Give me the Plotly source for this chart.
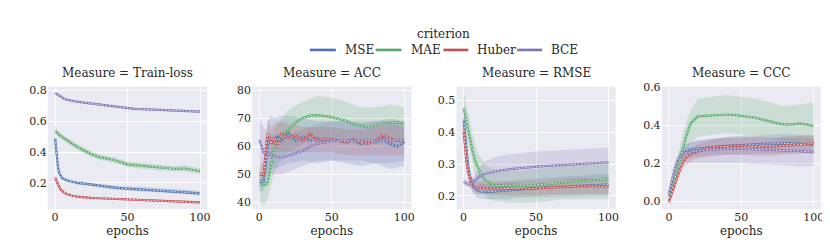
import plotly.graph_objects as go

# ---------------- data ----------------
criteria = ["MSE", "MAE", "Huber", "BCE"]
measures = ["Train-loss", "ACC", "RMSE", "CCC"]
colors = ["#4C72B0", "#55A868", "#C44E52", "#8172B3"]
fills = ["rgba(76,114,176,0.2)", "rgba(85,168,104,0.2)", "rgba(196,78,82,0.2)", "rgba(129,114,179,0.2)"]

epochs = [0, 1, 2, 3, 4, 5, 6, 8, 10, 12, 15, 20, 25, 30, 35, 40, 45, 50, 55, 60, 65, 70, 75, 80, 85, 90, 95, 100]
band_epochs = [0, 1, 2, 3, 4, 5, 6, 8, 10, 15, 20, 30, 40, 50, 60, 70, 80, 90, 100]

# Train-loss
train_mse = [0.49, 0.40, 0.30, 0.26, 0.24, 0.23, 0.225, 0.215, 0.21, 0.207, 0.2, 0.195, 0.188, 0.18, 0.175, 0.17, 0.166, 0.163, 0.16, 0.16, 0.155, 0.152, 0.15, 0.147, 0.145, 0.142, 0.138, 0.132]
train_mse_lo = [0.47, 0.38, 0.285, 0.248, 0.23, 0.22, 0.215, 0.205, 0.2, 0.19, 0.183, 0.168, 0.157, 0.15, 0.145, 0.138, 0.133, 0.128, 0.118]
train_mse_hi = [0.51, 0.42, 0.315, 0.272, 0.25, 0.24, 0.235, 0.225, 0.22, 0.21, 0.207, 0.192, 0.183, 0.176, 0.175, 0.166, 0.161, 0.156, 0.146]
train_mae = [0.535, 0.53, 0.52, 0.51, 0.505, 0.5, 0.49, 0.478, 0.465, 0.452, 0.435, 0.41, 0.385, 0.368, 0.36, 0.35, 0.335, 0.32, 0.315, 0.31, 0.305, 0.3, 0.296, 0.293, 0.29, 0.293, 0.283, 0.276]
train_mae_lo = [0.51, 0.51, 0.5, 0.492, 0.487, 0.482, 0.472, 0.46, 0.447, 0.417, 0.392, 0.35, 0.332, 0.302, 0.292, 0.282, 0.275, 0.273, 0.258]
train_mae_hi = [0.565, 0.552, 0.54, 0.53, 0.523, 0.518, 0.508, 0.496, 0.483, 0.453, 0.428, 0.386, 0.368, 0.338, 0.328, 0.318, 0.311, 0.313, 0.294]
train_huber = [0.235, 0.21, 0.185, 0.17, 0.155, 0.145, 0.138, 0.128, 0.12, 0.116, 0.11, 0.105, 0.102, 0.1, 0.098, 0.096, 0.094, 0.093, 0.091, 0.089, 0.087, 0.086, 0.085, 0.083, 0.08, 0.078, 0.076, 0.073]
train_huber_lo = [0.22, 0.198, 0.175, 0.162, 0.148, 0.138, 0.131, 0.121, 0.113, 0.103, 0.098, 0.093, 0.089, 0.086, 0.082, 0.079, 0.076, 0.071, 0.066]
train_huber_hi = [0.25, 0.222, 0.195, 0.178, 0.162, 0.152, 0.145, 0.135, 0.127, 0.117, 0.112, 0.107, 0.103, 0.1, 0.096, 0.093, 0.09, 0.085, 0.08]
train_bce = [0.783, 0.777, 0.77, 0.763, 0.757, 0.752, 0.747, 0.74, 0.735, 0.731, 0.727, 0.72, 0.714, 0.708, 0.702, 0.697, 0.69, 0.683, 0.68, 0.678, 0.676, 0.673, 0.67, 0.668, 0.667, 0.665, 0.663, 0.662]
train_bce_lo = [0.777, 0.771, 0.764, 0.757, 0.751, 0.746, 0.741, 0.734, 0.729, 0.721, 0.714, 0.702, 0.69, 0.676, 0.671, 0.666, 0.661, 0.658, 0.655]
train_bce_hi = [0.789, 0.783, 0.776, 0.769, 0.763, 0.758, 0.753, 0.746, 0.741, 0.733, 0.726, 0.714, 0.704, 0.69, 0.685, 0.68, 0.675, 0.672, 0.669]

# ACC
acc_mse = [47.5, 47.5, 47.5, 47.5, 52, 58, 61, 63, 61, 64, 62, 65, 62, 63.5, 62, 63, 61.5, 62.5, 62, 61.5, 62.5, 61, 62, 61.5, 63, 61, 60, 61.5]
acc_mse_lo = [44, 44, 44, 44, 46, 50, 52, 53, 52, 53, 54, 55, 54, 55, 54, 53, 54, 52, 53]
acc_mse_hi = [51, 51, 51, 51, 58, 66, 69, 71, 70, 71, 71, 70, 69, 69, 69, 68, 69, 69, 69]
acc_mae = [46.5, 46.3, 46.2, 46.2, 46.3, 46.5, 48, 53, 58.5, 61, 64, 66, 68.5, 70.2, 71, 71.2, 70.8, 70.5, 69.8, 69.2, 68, 67.4, 66.8, 67.5, 68.3, 68.5, 68.6, 68]
acc_mae_lo = [40, 40, 39.5, 39.5, 39.5, 40, 42, 46, 50, 56, 58, 61, 63, 63, 62, 60, 61, 61, 62]
acc_mae_hi = [53, 53, 53, 53, 53, 53, 55, 60, 66, 70, 73, 76, 78, 77.5, 76, 74, 74, 75, 74]
acc_huber = [50, 50, 50, 50, 56, 62, 64.5, 61, 63, 60, 64.5, 63, 64, 62, 64.5, 62, 63, 62.5, 62, 61.5, 62.5, 61.5, 61, 62, 64, 63, 62, 62]
acc_huber_lo = [46, 46, 46, 46, 50, 56, 58, 56, 58, 58, 58, 58, 58, 58, 57, 57, 57, 57, 57]
acc_huber_hi = [54, 54, 54, 54, 62, 67, 70, 67, 68, 69, 68, 67, 67, 67, 66, 66, 67, 68, 67]
acc_bce = [62.5, 61, 59, 58, 58, 57.5, 57, 57, 56.8, 56.5, 56, 56.8, 57.5, 58.5, 60, 61, 61.5, 62, 62, 62, 62, 62, 61.8, 62, 62, 62, 62.3, 62]
acc_bce_lo = [55, 53, 52, 51, 50, 50, 50, 50, 50, 50, 51, 53, 55, 55, 55, 55, 54, 54, 55]
acc_bce_hi = [70, 69, 68, 67, 66, 66, 65, 65, 64, 63, 64, 66, 68, 69, 69, 69, 69, 70, 69]

# RMSE
rmse_mse = [0.44, 0.39, 0.34, 0.3, 0.27, 0.248, 0.235, 0.222, 0.216, 0.214, 0.213, 0.214, 0.216, 0.218, 0.22, 0.222, 0.223, 0.225, 0.226, 0.228, 0.229, 0.23, 0.231, 0.232, 0.233, 0.234, 0.235, 0.236]
rmse_mse_lo = [0.41, 0.36, 0.31, 0.27, 0.245, 0.225, 0.212, 0.2, 0.193, 0.19, 0.19, 0.19, 0.195, 0.196, 0.198, 0.2, 0.2, 0.2, 0.2]
rmse_mse_hi = [0.47, 0.42, 0.37, 0.33, 0.295, 0.27, 0.258, 0.245, 0.24, 0.237, 0.24, 0.245, 0.25, 0.255, 0.258, 0.262, 0.265, 0.268, 0.27]
rmse_mae = [0.477, 0.455, 0.43, 0.405, 0.385, 0.365, 0.345, 0.31, 0.288, 0.268, 0.25, 0.235, 0.232, 0.232, 0.23, 0.23, 0.232, 0.235, 0.237, 0.24, 0.242, 0.244, 0.246, 0.247, 0.248, 0.25, 0.251, 0.253]
rmse_mae_lo = [0.43, 0.41, 0.385, 0.36, 0.34, 0.32, 0.3, 0.265, 0.24, 0.2, 0.185, 0.18, 0.178, 0.18, 0.185, 0.19, 0.19, 0.19, 0.19]
rmse_mae_hi = [0.525, 0.51, 0.485, 0.46, 0.44, 0.42, 0.4, 0.36, 0.335, 0.3, 0.285, 0.28, 0.28, 0.285, 0.29, 0.295, 0.3, 0.305, 0.31]
rmse_huber = [0.405, 0.35, 0.305, 0.275, 0.255, 0.243, 0.235, 0.228, 0.226, 0.225, 0.225, 0.225, 0.224, 0.223, 0.222, 0.222, 0.223, 0.224, 0.225, 0.227, 0.228, 0.229, 0.23, 0.232, 0.232, 0.231, 0.23, 0.23]
rmse_huber_lo = [0.38, 0.325, 0.285, 0.255, 0.235, 0.224, 0.216, 0.208, 0.205, 0.203, 0.202, 0.2, 0.2, 0.2, 0.203, 0.205, 0.207, 0.207, 0.206]
rmse_huber_hi = [0.43, 0.375, 0.325, 0.295, 0.275, 0.262, 0.254, 0.248, 0.247, 0.247, 0.248, 0.246, 0.244, 0.248, 0.251, 0.253, 0.257, 0.255, 0.254]
rmse_bce = [0.245, 0.242, 0.239, 0.237, 0.236, 0.237, 0.239, 0.25, 0.258, 0.265, 0.27, 0.276, 0.28, 0.283, 0.286, 0.288, 0.29, 0.292, 0.294, 0.296, 0.297, 0.298, 0.299, 0.3, 0.301, 0.302, 0.304, 0.306]
rmse_bce_lo = [0.235, 0.232, 0.229, 0.227, 0.225, 0.225, 0.225, 0.222, 0.222, 0.225, 0.23, 0.235, 0.24, 0.245, 0.25, 0.25, 0.25, 0.252, 0.255]
rmse_bce_hi = [0.255, 0.252, 0.249, 0.247, 0.248, 0.25, 0.255, 0.27, 0.285, 0.31, 0.32, 0.33, 0.335, 0.34, 0.342, 0.345, 0.347, 0.35, 0.352]

# CCC
ccc_mse = [0.03, 0.06, 0.09, 0.12, 0.145, 0.17, 0.195, 0.23, 0.255, 0.265, 0.272, 0.278, 0.282, 0.285, 0.288, 0.292, 0.294, 0.295, 0.297, 0.3, 0.302, 0.303, 0.304, 0.306, 0.305, 0.303, 0.3, 0.298]
ccc_mse_lo = [0.01, 0.04, 0.07, 0.1, 0.125, 0.15, 0.17, 0.2, 0.22, 0.23, 0.235, 0.24, 0.245, 0.245, 0.25, 0.25, 0.255, 0.255, 0.25]
ccc_mse_hi = [0.05, 0.08, 0.11, 0.14, 0.165, 0.19, 0.22, 0.26, 0.29, 0.31, 0.32, 0.33, 0.34, 0.345, 0.345, 0.35, 0.355, 0.35, 0.345]
ccc_mae = [0.0, 0.03, 0.06, 0.09, 0.12, 0.15, 0.18, 0.235, 0.29, 0.345, 0.41, 0.447, 0.45, 0.452, 0.455, 0.457, 0.455, 0.45, 0.447, 0.44, 0.43, 0.42, 0.41, 0.405, 0.405, 0.41, 0.405, 0.395]
ccc_mae_lo = [-0.01, 0.01, 0.04, 0.065, 0.09, 0.11, 0.13, 0.18, 0.22, 0.3, 0.34, 0.35, 0.36, 0.35, 0.34, 0.33, 0.31, 0.3, 0.3]
ccc_mae_hi = [0.01, 0.05, 0.08, 0.115, 0.15, 0.19, 0.23, 0.3, 0.37, 0.48, 0.54, 0.55, 0.56, 0.55, 0.54, 0.52, 0.5, 0.51, 0.52]
ccc_huber = [-0.005, 0.015, 0.035, 0.06, 0.085, 0.11, 0.135, 0.175, 0.21, 0.23, 0.248, 0.262, 0.275, 0.285, 0.288, 0.29, 0.292, 0.293, 0.29, 0.288, 0.286, 0.285, 0.29, 0.295, 0.296, 0.298, 0.302, 0.305]
ccc_huber_lo = [-0.015, 0.005, 0.025, 0.045, 0.07, 0.09, 0.115, 0.15, 0.18, 0.21, 0.225, 0.24, 0.245, 0.245, 0.24, 0.24, 0.245, 0.25, 0.26]
ccc_huber_hi = [0.005, 0.025, 0.05, 0.075, 0.1, 0.13, 0.155, 0.2, 0.24, 0.285, 0.3, 0.325, 0.335, 0.34, 0.335, 0.33, 0.34, 0.345, 0.35]
ccc_bce = [0.04, 0.075, 0.11, 0.14, 0.17, 0.195, 0.215, 0.24, 0.25, 0.255, 0.26, 0.266, 0.27, 0.273, 0.275, 0.276, 0.277, 0.276, 0.275, 0.274, 0.273, 0.272, 0.27, 0.27, 0.268, 0.265, 0.262, 0.259]
ccc_bce_lo = [0.02, 0.055, 0.09, 0.12, 0.15, 0.17, 0.19, 0.2, 0.2, 0.2, 0.2, 0.2, 0.2, 0.2, 0.195, 0.195, 0.19, 0.185, 0.185]
ccc_bce_hi = [0.06, 0.095, 0.13, 0.16, 0.19, 0.22, 0.24, 0.275, 0.29, 0.31, 0.32, 0.33, 0.335, 0.335, 0.34, 0.335, 0.335, 0.335, 0.33]

series = {
    "Train-loss": [(train_mse, train_mse_lo, train_mse_hi), (train_mae, train_mae_lo, train_mae_hi),
                   (train_huber, train_huber_lo, train_huber_hi), (train_bce, train_bce_lo, train_bce_hi)],
    "ACC": [(acc_mse, acc_mse_lo, acc_mse_hi), (acc_mae, acc_mae_lo, acc_mae_hi),
            (acc_huber, acc_huber_lo, acc_huber_hi), (acc_bce, acc_bce_lo, acc_bce_hi)],
    "RMSE": [(rmse_mse, rmse_mse_lo, rmse_mse_hi), (rmse_mae, rmse_mae_lo, rmse_mae_hi),
             (rmse_huber, rmse_huber_lo, rmse_huber_hi), (rmse_bce, rmse_bce_lo, rmse_bce_hi)],
    "CCC": [(ccc_mse, ccc_mse_lo, ccc_mse_hi), (ccc_mae, ccc_mae_lo, ccc_mae_hi),
            (ccc_huber, ccc_huber_lo, ccc_huber_hi), (ccc_bce, ccc_bce_lo, ccc_bce_hi)],
}

y_ranges = [[0.03, 0.825], [37.7, 81.4], [0.159, 0.544], [-0.04, 0.604]]
y_ticks = [[0.2, 0.4, 0.6, 0.8], [40, 50, 60, 70, 80], [0.2, 0.3, 0.4, 0.5], [0.0, 0.2, 0.4, 0.6]]
y_fmt = [".1f", "d", ".1f", ".1f"]

# ---------------- layout ----------------
W, H = 830, 252
panels_px = [(40, 200), (245, 405), (450, 610), (656, 816)]
top_px, bot_px = 75, 200
FONT = "DejaVu Serif"

fig = go.Figure()
layout = dict(
    width=W, height=H, margin=dict(l=0, r=0, t=0, b=0),
    paper_bgcolor="white", plot_bgcolor="#EAEAF2",
    font=dict(family=FONT, size=11, color="#262626"),
    showlegend=False,
)
annotations = [dict(text="criterion", x=437.5 / W, y=1 - 21.7 / H, xref="paper", yref="paper",
                    showarrow=False, font=dict(family=FONT, size=12), xanchor="center", yanchor="middle")]
shapes = []

# compact legend (seaborn style)
leg_line_px = [(303, 329), (369, 395), (437, 462), (511, 536)]
leg_y = 1 - 37.7 / H
for j, c in enumerate(criteria):
    a, b = leg_line_px[j]
    shapes.append(dict(type="line", xref="paper", yref="paper", x0=a / W, x1=b / W, y0=leg_y, y1=leg_y,
                       line=dict(color=colors[j], width=2.6)))
    annotations.append(dict(text=c, x=(b + 7) / W, y=leg_y, xref="paper", yref="paper", showarrow=False,
                            xanchor="left", yanchor="middle", font=dict(family=FONT, size=12)))

for i, m in enumerate(measures):
    xa = "x" if i == 0 else f"x{i+1}"
    ya = "y" if i == 0 else f"y{i+1}"
    x0, x1 = panels_px[i]
    layout["xaxis" if i == 0 else f"xaxis{i+1}"] = dict(
        domain=[x0 / W, x1 / W], range=[-5, 105], tickvals=[0, 50, 100],
        showgrid=True, gridcolor="white", gridwidth=1.2, zeroline=False, showline=False,
        ticks="", anchor=ya, title=dict(text="epochs", font=dict(family=FONT, size=12), standoff=3),
        tickfont=dict(family=FONT, size=11))
    layout["yaxis" if i == 0 else f"yaxis{i+1}"] = dict(
        domain=[1 - bot_px / H, 1 - top_px / H], range=y_ranges[i], tickvals=y_ticks[i],
        tickformat=y_fmt[i], showgrid=True, gridcolor="white", gridwidth=1.2, zeroline=False,
        showline=False, ticks="", anchor=xa, tickfont=dict(family=FONT, size=11))
    annotations.append(dict(text=f"Measure = {m}", x=(x0 + x1) / 2 / W, y=1 - 61 / H,
                            xref="paper", yref="paper", showarrow=False, xanchor="center",
                            yanchor="middle", font=dict(family=FONT, size=12)))

    # bands
    for j, (mean, lo, hi) in enumerate(series[m]):
        fig.add_trace(go.Scatter(x=band_epochs, y=lo, mode="lines", line=dict(width=0),
                                 hoverinfo="skip", showlegend=False, xaxis=xa, yaxis=ya))
        fig.add_trace(go.Scatter(x=band_epochs, y=hi, mode="lines", line=dict(width=0),
                                 fill="tonexty", fillcolor=fills[j], hoverinfo="skip",
                                 showlegend=False, xaxis=xa, yaxis=ya))
    # lines
    for j, (mean, lo, hi) in enumerate(series[m]):
        fig.add_trace(go.Scatter(x=epochs, y=mean, mode="lines", name=criteria[j],
                                 line=dict(color=colors[j], width=2.2), xaxis=xa, yaxis=ya))
        fig.add_trace(go.Scatter(x=epochs, y=mean, mode="lines",
                                 line=dict(color="white", width=0.8, dash="2px,1.5px"),
                                 hoverinfo="skip", xaxis=xa, yaxis=ya))

layout["annotations"] = annotations
layout["shapes"] = shapes
fig.update_layout(**layout)
fig.write_html("out.html")
